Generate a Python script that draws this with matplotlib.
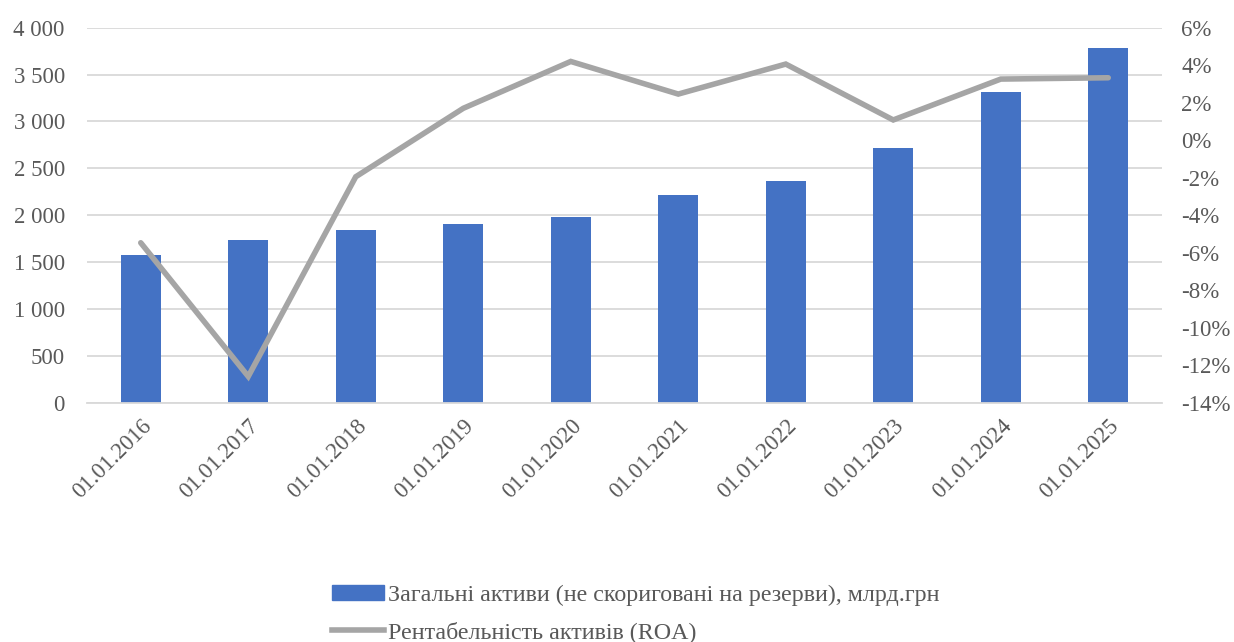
import matplotlib
matplotlib.use("Agg")
import matplotlib.pyplot as plt
from matplotlib.ticker import FuncFormatter, MultipleLocator
from matplotlib.lines import Line2D
from matplotlib.patches import Patch

dates = ["01.01.2016", "01.01.2017", "01.01.2018", "01.01.2019", "01.01.2020",
         "01.01.2021", "01.01.2022", "01.01.2023", "01.01.2024", "01.01.2025"]
assets = [1572, 1740, 1844, 1911, 1986, 2211, 2360, 2721, 3316, 3780]
roa = [-5.47, -12.6, -1.95, 1.7, 4.2, 2.46, 4.06, 1.08, 3.26, 3.33]

bar_label = "Загальні активи (не скориговані на резерви), млрд.грн"
line_label = "Рентабельність активів (ROA)"

plt.rcParams['font.family'] = ['Liberation Serif', 'DejaVu Serif']
txt = "#595959"
fs = 16.5

fig = plt.figure(figsize=(12.34, 6.42), dpi=100)
ax = fig.add_axes([87/1234, 1-402.7/642, (1162-87)/1234, (402.7-27.7)/642])
x = list(range(len(dates)))
ax.bar(x, assets, width=0.37, color="#4472C4", zorder=2)
ax.set_xlim(-0.5, len(dates)-0.5)
ax.set_ylim(0, 4000)
ax.yaxis.set_major_locator(MultipleLocator(500))
ax.yaxis.set_major_formatter(FuncFormatter(lambda v, p: f"{int(v):,}".replace(",", " ")))
ax.grid(axis="y", color="#D9D9D9", linewidth=1.3, zorder=0)
ax.set_axisbelow(True)
for s in ["top", "right", "left"]:
    ax.spines[s].set_visible(False)
ax.spines["bottom"].set_color("#D9D9D9")
ax.spines["bottom"].set_linewidth(1.3)
ax.tick_params(axis="both", length=0, labelsize=fs, labelcolor=txt)
ax.tick_params(axis="y", pad=16)
ax.set_xticks(x)
ax.set_xticklabels(dates, rotation=45, ha="right", rotation_mode="anchor")
ax.tick_params(axis="x", pad=9)

ax2 = ax.twinx()
ax2.plot(x, roa, color="#A5A5A5", linewidth=4, solid_capstyle="round", solid_joinstyle="miter", zorder=3)
ax2.set_ylim(-14, 6)
ax2.yaxis.set_major_locator(MultipleLocator(2))
ax2.yaxis.set_major_formatter(FuncFormatter(lambda v, p: f"{int(round(v))}%"))
for s in ax2.spines.values():
    s.set_visible(False)
ax2.tick_params(axis="y", length=0, labelsize=fs, labelcolor=txt, pad=14)

handles = [Patch(color="#4472C4", label=bar_label),
           Line2D([0], [0], color="#A5A5A5", linewidth=4, label=line_label)]
fig.legend(handles=handles, loc="lower center", bbox_to_anchor=(0.515, -0.035), ncol=1,
           frameon=False, fontsize=17.3, labelcolor=txt, handlelength=2.2,
           handletextpad=0.15, labelspacing=0.62, handleheight=0.55)

fig.savefig("out.png", dpi=100)
